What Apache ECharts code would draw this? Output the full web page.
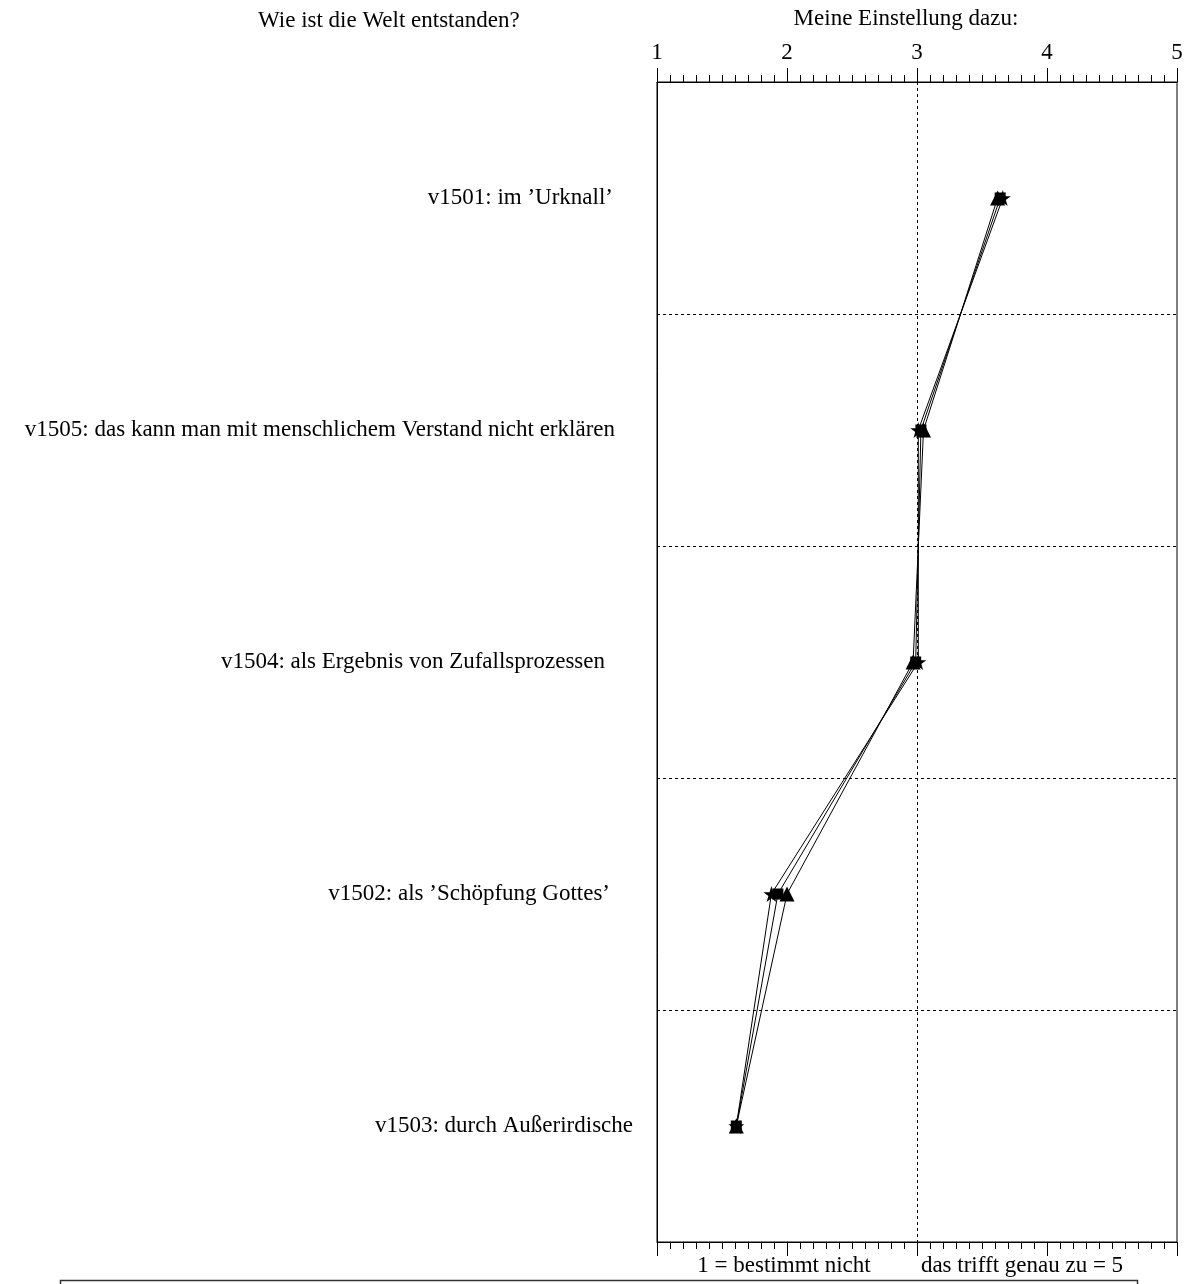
<!DOCTYPE html>
<html>
<head>
<meta charset="utf-8">
<script src="https://cdn.jsdelivr.net/npm/echarts@6/dist/echarts.min.js"></script>
<style>html,body{margin:0;padding:0;background:#fff}#c{width:1189px;height:1284px}</style>
</head>
<body>
<div id="c"></div>
<script>
const categories = [
  "v1501: im \u2019Urknall\u2019",
  "v1505: das kann man mit menschlichem Verstand nicht erklären",
  "v1504: als Ergebnis von Zufallsprozessen",
  "v1502: als \u2019Schöpfung Gottes\u2019",
  "v1503: durch Außerirdische"
];
const seriesStar = [3.66, 3.01, 3.01, 1.88, 1.61];
const seriesSquare = [3.64, 3.03, 2.99, 1.93, 1.61];
const seriesTriangle = [3.62, 3.05, 2.97, 2.00, 1.61];
const xTicks = [1, 2, 3, 4, 5];
const titleLeft = "Wie ist die Welt entstanden?";
const titleRight = "Meine Einstellung dazu:";
const lowLabel = "1 = bestimmt nicht";
const highLabel = "das trifft genau zu = 5";

const FONT = "'Liberation Serif','DejaVu Serif',serif";
const starPath = 'path://M50,0 L61,35 L98,35 L68,57 L79,91 L50,70 L21,91 L32,57 L2,35 L39,35 Z';
// small per-label horizontal shifts seen in the reference layout
const labelShift = [2, 0, 10, 5, -18];

function mk(name, vals, symbol, size) {
  return {
    name: name, type: 'line', xAxisIndex: 0, yAxisIndex: 0,
    data: vals.map((v, i) => [v, categories[i]]),
    symbol: symbol, symbolSize: size,
    lineStyle: {color: '#000', width: 1},
    itemStyle: {color: '#000'},
    silent: true, animation: false
  };
}

const rich = {};
labelShift.forEach((s, i) => {
  rich['l' + i] = {fontSize: 23, fontFamily: FONT, color: '#000', padding: [0, s, 0, 0]};
});

const chart = echarts.init(document.getElementById('c'), null, {renderer: 'canvas'});
const axisCommon = {
  type: 'value', min: 1, max: 5, interval: 1,
  axisLine: {show: true, lineStyle: {color: '#000', width: 1}},
  axisTick: {show: true, length: 14, lineStyle: {color: '#000'}},
  minorTick: {show: true, splitNumber: 10, length: 7, lineStyle: {color: '#000'}},
  splitLine: {show: false}
};
chart.setOption({
  animation: false,
  grid: {left: 657, right: 12, top: 82, height: 1160, show: true, borderColor: '#000', borderWidth: 1, backgroundColor: 'transparent'},
  xAxis: [
    Object.assign({}, axisCommon, {
      position: 'top',
      axisLabel: {show: true, color: '#000', fontSize: 23, fontFamily: FONT, margin: 18,
        formatter: v => xTicks.includes(v) ? String(v) : ''}
    }),
    Object.assign({}, axisCommon, {
      position: 'bottom',
      axisLabel: {show: false}
    })
  ],
  yAxis: {
    type: 'category', data: categories, inverse: true, boundaryGap: true,
    axisLine: {show: true, lineStyle: {color: '#000'}},
    axisTick: {show: false},
    axisLabel: {color: '#000', fontSize: 23, fontFamily: FONT, margin: 42,
      formatter: (v, i) => '{l' + i + '|' + v + '}', rich: rich},
    splitLine: {show: true, lineStyle: {color: '#000', type: [3, 3], width: 1}}
  },
  series: [
    Object.assign(mk('a', seriesTriangle, 'triangle', 15), {
      markLine: {silent: true, symbol: 'none', label: {show: false},
        lineStyle: {color: '#000', type: [3, 3], width: 1},
        data: [{xAxis: 3}]}
    }),
    mk('b', seriesSquare, 'rect', 11),
    mk('c', seriesStar, starPath, 16)
  ],
  graphic: [
    {type: 'text', left: 258, top: 9, style: {text: titleLeft, font: '23px ' + FONT, fill: '#000'}},
    {type: 'text', x: 906, y: 7, style: {text: titleRight, font: '23px ' + FONT, fill: '#000', textAlign: 'center'}},
    {type: 'text', x: 784, y: 1254, style: {text: lowLabel, font: '23px ' + FONT, fill: '#000', textAlign: 'center'}},
    {type: 'text', x: 1022, y: 1254, style: {text: highLabel, font: '23px ' + FONT, fill: '#000', textAlign: 'center'}},
    {type: 'rect', shape: {x: 60.5, y: 1280.5, width: 1077, height: 100}, style: {fill: 'none', stroke: '#333', lineWidth: 1.5}}
  ]
});
</script>
</body>
</html>
